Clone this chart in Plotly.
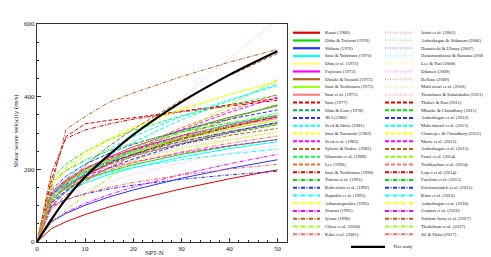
import plotly.graph_objects as go

# ---------------- data ----------------
spt_n = [0, 3, 6, 10, 15, 20, 30, 40, 50]

labels_col1_solid = ["Kanai (1966)", "Ohba & Toriumi (1970)", "Shibata (1970)", "Imai & Yahimura (1970)",
                     "Ohta et al. (1972)", "Fujiwara (1972)", "Ohsaki & Iwasaki (1973)",
                     "Imai & Yoshimura (1975)", "Imai et al. (1975)"]
vs_col1_solid = [
    [0, 36.7, 55.7, 75.6, 96.5, 114.6, 146.2, 173.8, 198.7],
    [0, 118.1, 146.4, 171.5, 194.5, 212.6, 241.1, 263.6, 282.5],
    [0, 55.4, 78.4, 101.2, 123.9, 143.1, 175.3, 202.4, 226.3],
    [0, 109.2, 137.3, 162.5, 185.7, 204.2, 233.5, 256.7, 276.3],
    [0, 129.2, 165.8, 199.3, 230.6, 255.8, 296.0, 328.3, 355.7],
    [0, 133.8, 169.4, 201.5, 231.3, 255.0, 292.7, 322.8, 348.2],
    [0, 124.9, 163.7, 199.8, 234.0, 261.9, 306.7, 343.1, 374.3],
    [0, 132.2, 166.2, 196.7, 224.8, 247.2, 282.6, 310.8, 334.5],
    [0, 130.6, 165.3, 196.7, 225.7, 248.9, 285.7, 315.1, 339.9],
]

labels_col1_dash = ["Imai (1977)", "Ohta & Goto (1978)", "JRA (1980)", "Seed & Idriss (1981)",
                    "Imai & Tonouchi (1982)", "Seed et al. (1983)", "Sykora & Stokoe (1983)",
                    "Okamoto et al. (1989)", "Lee (1990)"]
vs_col1_dash = [
    [0, 132.2, 167.3, 199.1, 228.5, 252.0, 289.2, 319.0, 344.1],
    [0, 124.0, 157.0, 186.7, 214.3, 236.3, 271.2, 299.2, 322.7],
    [0, 143.7, 180.6, 213.8, 244.4, 268.7, 307.2, 337.8, 363.6],
    [0, 106.3, 150.4, 194.1, 237.8, 274.6, 336.3, 388.4, 434.2],
    [0, 136.2, 168.9, 197.9, 224.3, 245.3, 278.1, 304.1, 325.9],
    [0, 97.7, 138.1, 178.3, 218.4, 252.2, 308.9, 356.7, 398.8],
    [0, 138.2, 168.9, 196.0, 220.4, 239.6, 269.4, 293.0, 312.6],
    [0, 173.8, 214.0, 249.4, 281.6, 307.0, 346.8, 378.0, 404.3],
    [0, 99.4, 140.6, 181.5, 222.3, 256.7, 314.4, 363.1, 405.9],
]

labels_col1_dashdot = ["Imai & Yoshimura (1990)", "Yokota et al. (1991)", "Kalteziotis et al. (1992)",
                       "Raptakis et al. (1995)", "Athanasopoulos (1995)", "Sisman (1995)", "Iyisan (1996)",
                       "Chien et al. (2000)", "Kiku et al. (2001)"]
vs_col1_dashdot = [
    [0, 190.0, 285.0, 308.0, 325.0, 338.0, 358.0, 375.0, 390.0],
    [0, 162.7, 196.3, 225.3, 251.4, 271.6, 303.1, 327.5, 348.0],
    [0, 99.2, 117.1, 132.4, 146.0, 156.4, 172.4, 184.7, 194.8],
    [0, 130.2, 153.7, 173.8, 191.6, 205.2, 226.2, 242.4, 255.7],
    [0, 159.8, 205.1, 246.5, 285.2, 316.3, 366.1, 406.1, 440.0],
    [0, 57.4, 81.8, 106.1, 130.5, 151.1, 185.9, 215.2, 241.2],
    [0, 90.2, 128.4, 166.7, 204.9, 237.3, 291.9, 337.9, 378.7],
    [0, 51.3, 87.4, 129.5, 177.0, 220.9, 301.8, 376.6, 447.3],
    [0, 94.1, 115.3, 133.8, 150.6, 163.8, 184.4, 200.6, 214.1],
]

labels_col2_dot = ["Jafari et al. (2002)", "Anbazhagan & Sitharam (2006)", "Hasancebi & Ulusay (2007)",
                   "Hanumantharao & Ramana (2008)", "Lee & Tsai (2008)", "Dikmen (2009)", "Bellana (2009)",
                   "Maheswari et al. (2010)", "Tsiambaos & Sabatakakis (2011)"]
vs_col2_dot = [
    [0, 56.0, 100.9, 155.7, 219.8, 280.7, 396.2, 506.0, 611.6],
    [0, 121.1, 159.7, 195.9, 230.4, 258.5, 304.0, 341.1, 373.0],
    [0, 126.5, 156.9, 183.8, 208.4, 227.8, 258.3, 282.4, 302.7],
    [0, 132.5, 178.5, 222.4, 264.6, 299.5, 356.6, 403.6, 444.1],
    [0, 176.2, 206.5, 232.1, 254.7, 272.1, 298.5, 318.8, 335.5],
    [0, 89.0, 116.6, 142.4, 166.8, 186.6, 218.5, 244.5, 266.7],
    [0, 107.5, 140.8, 171.9, 201.3, 225.2, 263.8, 295.1, 321.9],
    [0, 132.9, 163.7, 190.7, 215.4, 234.8, 265.2, 289.1, 309.2],
    [0, 144.4, 176.5, 204.8, 230.3, 250.3, 281.5, 306.1, 326.6],
]

labels_col2_dash = ["Thaker & Rao (2011)", "Mhaske & Choudhury (2011)", "Anbazhagan et al. (2012)",
                    "Maheshwari et al. (2013)", "Chatterjee & Choudhury (2013)", "Marto et al. (2013)",
                    "Anbazhagan et al. (2013)", "Fauzi et al. (2014)", "Yordkayhun et al. (2014)"]
vs_col2_dash = [
    [0, 170.0, 290.0, 325.0, 335.0, 342.0, 360.0, 378.0, 395.0],
    [0, 113.3, 149.4, 183.3, 215.6, 241.8, 284.4, 319.1, 348.9],
    [0, 107.0, 141.2, 173.2, 203.7, 228.5, 268.8, 301.6, 329.8],
    [0, 128.3, 172.9, 215.4, 256.3, 290.1, 345.4, 390.9, 430.2],
    [0, 151.8, 197.6, 239.9, 279.9, 312.2, 364.2, 406.3, 442.2],
    [0, 131.7, 158.8, 182.3, 203.4, 219.8, 245.2, 265.0, 281.6],
    [0, 107.3, 158.2, 210.6, 264.2, 310.5, 389.6, 457.7, 518.6],
    [0, 139.0, 171.2, 199.5, 225.3, 245.6, 277.4, 302.4, 323.4],
    [0, 118.8, 152.5, 183.3, 212.1, 235.2, 272.2, 301.9, 327.1],
]

labels_col2_dashdot = ["Lopes et al. (2014)", "Fatehnia et al. (2015)", "Esfehanizadeh et al. (2015)",
                       "Kirar et al. (2016)", "Anbazhagan et al. (2016)", "Gautam et al. (2016)",
                       "Sulman-Jasso et al. (2017)", "Thokchom et al. (2017)", "Sil & Haloi (2017)"]
vs_col2_dashdot = [
    [0, 115.1, 150.8, 184.1, 215.6, 241.3, 282.6, 316.1, 344.9],
    [0, 112.3, 151.3, 188.4, 224.3, 253.8, 302.2, 342.0, 376.4],
    [0, 129.3, 162.5, 192.4, 220.0, 241.8, 276.5, 304.0, 327.2],
    [0, 118.3, 155.0, 189.3, 221.7, 248.0, 290.5, 325.0, 354.5],
    [0, 116.2, 147.1, 175.0, 200.9, 221.5, 254.2, 280.4, 302.5],
    [0, 136.5, 171.6, 203.1, 232.2, 255.3, 291.8, 320.9, 345.4],
    [0, 150.0, 310.0, 345.0, 385.0, 410.0, 455.0, 495.0, 530.0],
    [0, 126.2, 162.0, 194.7, 225.3, 249.9, 289.2, 320.8, 347.6],
    [0, 118.5, 148.0, 174.2, 198.4, 217.5, 247.7, 271.6, 291.6],
]

label_this_study = "This study"
vs_this_study = [0, 62, 118, 179, 240, 295, 385, 460, 525]

x_ticks = [0, 10, 20, 30, 40, 50]
y_ticks = [0, 200, 400, 600]

# ---------------- styles ----------------
W, H = 491, 257
L, R, T, B = 29, 279, 12, 237   # plot area in px

base9 = ["#e00000", "#00dd00", "#2233ff", "#00ffff", "#ffff70", "#ff00ff", "#b8621b", "#99ff11", "#ff7f7f"]
dash9 = ["#e00000", "#00a651", "#2233ff", "#00ffff", "#ffff00", "#ff00ff", "#b8621b", "#00ff44", "#ff6a2a"]
dd9 = ["#e00000", "#00dd00", "#2233ff", "#00ffff", "#ffff00", "#ff00ff", "#b8621b", "#99ff11", "#ff6666"]
dot9 = ["#ffb3c6", "#b3ffb3", "#b8b8ff", "#a8ffff", "#ffffa8", "#ffb0ff", "#e0c0a0", "#d4ffa8", "#ffb8b8"]
dash9b = ["#e00000", "#00dd00", "#2233ff", "#00ffff", "#ffff00", "#ff00ff", "#b8621b", "#88ff00", "#ff7070"]

DASH = "4px,2px"
DASHDOT = "4px,1.5px,1px,1.5px"
DOT = "1px,1.5px"

groups = [
    (labels_col1_solid, vs_col1_solid, base9, "solid", 0),
    (labels_col1_dash, vs_col1_dash, dash9, DASH, 0),
    (labels_col1_dashdot, vs_col1_dashdot, dd9, DASHDOT, 0),
    (labels_col2_dot, vs_col2_dot, dot9, DOT, 1),
    (labels_col2_dash, vs_col2_dash, dash9b, DASH, 1),
    (labels_col2_dashdot, vs_col2_dashdot, dd9, DASHDOT, 1),
]

def px_x(p):
    return (p - L) / (R - L)

def px_y(p):
    return (B - p) / (B - T)

FONT = "Liberation Serif"
LEG_SIZE = 4.7

fig = go.Figure()
shapes = []
annotations = []

col_line_x = [(285, 312), (377, 405)]
col_text_x = [316, 412]
row_y0, row_step = 21, 8.0
row_counter = [0, 0]

for labels, values, colors, dash, col in groups:
    for lab, vals, colr in zip(labels, values, colors):
        fig.add_trace(go.Scatter(
            x=spt_n, y=vals, mode="lines", name=lab, showlegend=False,
            line=dict(color=colr, width=1, dash=dash), hoverinfo="skip"))
        r = row_counter[col]
        yy = row_y0 + r * row_step
        x0, x1 = col_line_x[col]
        shapes.append(dict(type="line", xref="paper", yref="paper",
                           x0=px_x(x0), x1=px_x(x1), y0=px_y(yy), y1=px_y(yy),
                           line=dict(color=colr, width=2.2, dash=dash)))
        annotations.append(dict(xref="paper", yref="paper", x=px_x(col_text_x[col]), y=px_y(yy),
                                text=lab, showarrow=False, xanchor="left", yanchor="middle",
                                borderpad=0, font=dict(family=FONT, size=LEG_SIZE, color="#222")))
        row_counter[col] += 1

fig.add_trace(go.Scatter(x=spt_n, y=vs_this_study, mode="lines", name=label_this_study,
                         showlegend=False, line=dict(color="black", width=2.2, shape="spline"),
                         hoverinfo="skip"))
shapes.append(dict(type="line", xref="paper", yref="paper", x0=px_x(343), x1=px_x(377),
                   y0=px_y(242), y1=px_y(242), line=dict(color="black", width=2.2)))
annotations.append(dict(xref="paper", yref="paper", x=px_x(384), y=px_y(242), text=label_this_study,
                        showarrow=False, xanchor="left", yanchor="middle", borderpad=0,
                        font=dict(family=FONT, size=LEG_SIZE, color="#222")))

annotations.append(dict(xref="paper", yref="paper", x=px_x(8), y=px_y(122),
                        text="Shear wave velocity (m/s)", textangle=-90, showarrow=False,
                        xanchor="center", yanchor="middle", font=dict(family=FONT, size=7, color="#222")))
annotations.append(dict(xref="paper", yref="paper", x=px_x(146), y=px_y(248),
                        text="SPT-N", showarrow=False, xanchor="center", yanchor="middle",
                        font=dict(family=FONT, size=7, color="#222")))

axis_common = dict(showgrid=False, zeroline=False, showline=True, linecolor="#333", linewidth=1,
                   mirror=True, ticks="inside", tickcolor="#333", ticklen=4,
                   tickfont=dict(family=FONT, size=7, color="#222"))

fig.update_layout(
    width=W, height=H, margin=dict(l=L, r=W - R, t=T, b=H - B),
    paper_bgcolor="white", plot_bgcolor="white", showlegend=False,
    shapes=shapes, annotations=annotations,
    xaxis=dict(range=[0, 52], tickvals=x_ticks, minor=dict(ticks="inside", ticklen=2, dtick=2, tickcolor="#333"),
               **axis_common),
    yaxis=dict(range=[0, 600], tickvals=y_ticks, minor=dict(ticks="inside", ticklen=2, dtick=50, tickcolor="#333"),
               **axis_common),
)

fig.write_html("out.html")
